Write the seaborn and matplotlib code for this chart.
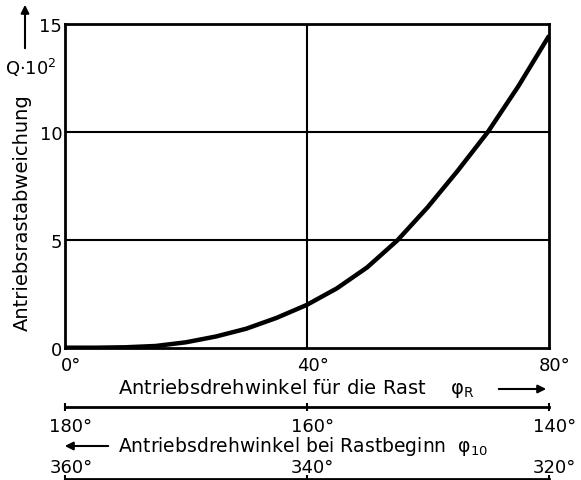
import numpy as np
import pandas as pd
import matplotlib
matplotlib.use("Agg")
import matplotlib.pyplot as plt
from matplotlib.transforms import ScaledTranslation
import seaborn as sns

# data
phi_R = [0, 5, 10, 15, 20, 25, 30, 35, 40, 45, 50, 55, 60, 65, 70, 75, 80]
Q = [0.0, 0.0, 0.02, 0.08, 0.25, 0.52, 0.88, 1.38, 1.98, 2.75, 3.72, 4.97, 6.5, 8.2, 10.0, 12.1, 14.4]
x_ticks = [0, 40, 80]
x_ticklabels = ["0°", "40°", "80°"]
y_ticks = [0, 5, 10, 15]
y_ticklabels = ["0", "5", "10", "15"]
scale2_ticks = [180, 160, 140]
scale2_labels = ["180°", "160°", "140°"]
scale3_ticks = [360, 340, 320]
scale3_labels = ["360°", "340°", "320°"]

sns.set_style("white")
plt.rcParams["font.family"] = ["DejaVu Sans"]
plt.rcParams["mathtext.default"] = "regular"
plt.rcParams["text.color"] = "black"
plt.rcParams["xtick.color"] = "black"
plt.rcParams["ytick.color"] = "black"
plt.rcParams["xtick.labelcolor"] = "black"
plt.rcParams["ytick.labelcolor"] = "black"
FS = 13
FSL = 14

W, H = 581, 481
fig = plt.figure(figsize=(W / 100, H / 100), dpi=100)

def fx(px):
    return px / W

def fy(py):
    return 1 - py / H

def shift_labels(axis, dx_px):
    off = ScaledTranslation(dx_px / 100, 0, fig.dpi_scale_trans)
    for t in axis.get_major_ticks():
        t.label1.set_transform(t.label1.get_transform() + off)
        t.label2.set_transform(t.label2.get_transform() + off)

L, R, T, B = 65, 548.5, 24.7, 348.7
ax = fig.add_axes([fx(L), fy(B), fx(R) - fx(L), fy(T) - fy(B)])
df = pd.DataFrame({"phi": phi_R, "Q": Q})
sns.lineplot(data=df, x="phi", y="Q", ax=ax, color="black", linewidth=3.2, zorder=3,
             solid_joinstyle="round", solid_capstyle="round")
ax.set_xlim(0, 80)
ax.set_ylim(0, 15)
ax.set_xticks(x_ticks)
ax.set_xticklabels(x_ticklabels, fontsize=FS)
ax.set_yticks(y_ticks)
ax.set_yticklabels(y_ticklabels, fontsize=FS)
ax.tick_params(axis="x", length=0, pad=6)
ax.tick_params(axis="y", length=0, pad=2)
ax.set_xlabel("")
ax.set_ylabel("")
for s in ax.spines.values():
    s.set_visible(True)
    s.set_color("black")
    s.set_linewidth(2.0)
for yv in [5, 10]:
    ax.axhline(yv, color="black", linewidth=1.5, zorder=1)
ax.axvline(40, color="black", linewidth=1.5, zorder=1)
shift_labels(ax.xaxis, 6)

def scale_axes(py, ticks, labels, lim, top):
    a = fig.add_axes([fx(L), fy(py), fx(R) - fx(L), 0.0001])
    a.set_xlim(*lim)
    a.set_yticks([])
    for k, s in a.spines.items():
        s.set_visible(False)
    sp = a.spines["top" if top else "bottom"]
    sp.set_visible(True)
    sp.set_linewidth(2.0)
    sp.set_color("black")
    a.set_xticks(ticks)
    a.set_xticklabels(labels, fontsize=FS)
    if top:
        a.xaxis.tick_top()
        a.tick_params(axis="x", direction="inout", length=6, width=1.5, pad=-1,
                      top=True, bottom=False, labeltop=True, labelbottom=False)
    else:
        a.tick_params(axis="x", direction="inout", length=6, width=1.5, pad=4,
                      bottom=True, labelbottom=True)
    a.patch.set_alpha(0)
    shift_labels(a.xaxis, 6)
    return a

scale_axes(408, scale2_ticks, scale2_labels, (180, 140), False)
scale_axes(480, scale3_ticks, scale3_labels, (360, 320), True)

# labels
fig.text(fx(118), fy(389), r"Antriebsdrehwinkel für die Rast    $\varphi_R$", fontsize=FSL,
         ha="left", va="center")
fig.text(fx(118), fy(446.5), r"Antriebsdrehwinkel bei Rastbeginn  $\varphi_{10}$", fontsize=13.5,
         ha="left", va="center")
fig.text(fx(22), fy(213), "Antriebsrastabweichung", fontsize=14, rotation=90,
         ha="center", va="center")
fig.text(fx(31), fy(68), r"Q$\cdot$10$^2$", fontsize=FS, ha="center", va="center")

arrow = dict(arrowstyle="-|>", color="black", lw=1.5, mutation_scale=12)
fig.add_artist(matplotlib.patches.FancyArrowPatch((fx(496), fy(390)), (fx(549), fy(390)),
               transform=fig.transFigure, **arrow))
fig.add_artist(matplotlib.patches.FancyArrowPatch((fx(111), fy(447)), (fx(62), fy(447)),
               transform=fig.transFigure, **arrow))
fig.add_artist(matplotlib.patches.FancyArrowPatch((fx(25), fy(52)), (fx(25), fy(3)),
               transform=fig.transFigure, **arrow))

fig.savefig("out.png", dpi=100)
